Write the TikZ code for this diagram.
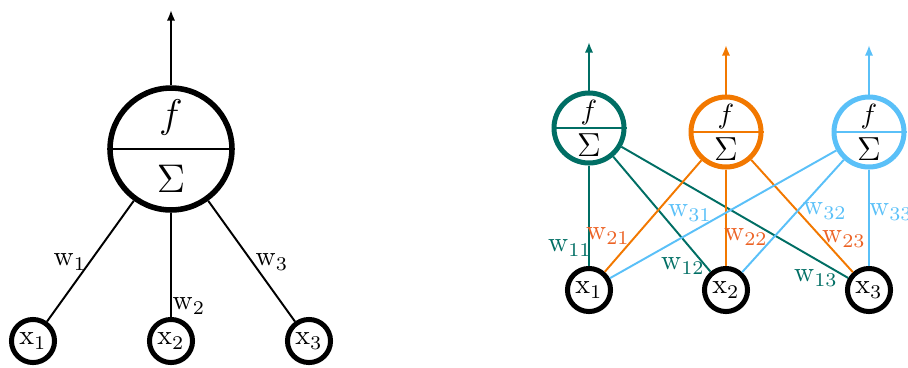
\documentclass[tikz,border=0pt]{standalone}
\usetikzlibrary{arrows.meta}
\definecolor{tealc}{RGB}{0,110,100}
\definecolor{orngc}{RGB}{242,120,0}
\definecolor{orngt}{RGB}{236,98,36}
\definecolor{skyc}{RGB}{90,192,248}
\tikzset{
  bigneuron/.style={circle, draw, line width=2pt, inner sep=0pt, minimum size=43.9pt},
  neuron/.style={circle, draw, line width=1.8pt, inner sep=0pt, minimum size=25.2pt},
  inp/.style={circle, draw=black, line width=1.8pt, inner sep=0pt, minimum size=15.5pt},
  conn/.style={line width=0.7pt},
  outarrow/.style={line width=0.7pt, -{Latex[length=3.8pt,width=3pt]}},
  lbl/.style={inner sep=0pt},
}
\begin{document}
\begin{tikzpicture}[x=0.36pt,y=-0.36pt]
\useasboundingbox (0,0) rectangle (908,367);
% ---------- left: single neuron ----------
\node[bigneuron] (L) at (171,149) {};
\draw[conn] (L.west) -- (L.east);
\node[lbl] (Lf) at (171,117) {\Large $f$};
\node[lbl] (Ls) at (171,179) {\Large $\Sigma$};
\coordinate (Lout) at (171,10);
\draw[outarrow] (L.north) -- (Lout);
\node[inp] (Lx1) at (33,341) {$\mathrm{x}_1$};
\node[inp] (Lx2) at (171,341) {$\mathrm{x}_2$};
\node[inp] (Lx3) at (309,341) {$\mathrm{x}_3$};
\draw[conn] (L) -- (Lx1);
\draw[conn] (L) -- (Lx2);
\draw[conn] (L) -- (Lx3);
\node[lbl] (Lw1) at (70,262) {$\mathrm{w}_1$};
\node[lbl] (Lw2) at (189,306) {$\mathrm{w}_2$};
\node[lbl] (Lw3) at (272,262) {$\mathrm{w}_3$};
% ---------- right: three neurons ----------
\node[neuron, draw=tealc] (N1) at (589,128) {};
\node[neuron, draw=orngc] (N2) at (726,132) {};
\node[neuron, draw=skyc] (N3) at (869,132) {};
\draw[conn, tealc] (N1.west) -- (N1.east);
\draw[conn, orngc] (N2.west) -- (N2.east);
\draw[conn, skyc] (N3.west) -- (N3.east);
\node[lbl] (N1f) at (589,113) {$f$};
\node[lbl] (N1s) at (589,145) {\large $\Sigma$};
\node[lbl] (N2f) at (726,117) {$f$};
\node[lbl] (N2s) at (726,149) {\large $\Sigma$};
\node[lbl] (N3f) at (869,117) {$f$};
\node[lbl] (N3s) at (869,149) {\large $\Sigma$};
\coordinate (O1) at (589,42);
\coordinate (O2) at (726,45);
\coordinate (O3) at (869,45);
\draw[outarrow, tealc] (N1.north) -- (O1);
\draw[outarrow, orngc] (N2.north) -- (O2);
\draw[outarrow, skyc] (N3.north) -- (O3);
\node[inp] (X1) at (589,290) {$\mathrm{x}_1$};
\node[inp] (X2) at (726,290) {$\mathrm{x}_2$};
\node[inp] (X3) at (869,290) {$\mathrm{x}_3$};
\draw[conn, tealc] (N1) -- (X1);
\draw[conn, tealc] (N1) -- (X2);
\draw[conn, tealc] (N1) -- (X3);
\draw[conn, orngc] (N2) -- (X1);
\draw[conn, orngc] (N2) -- (X2);
\draw[conn, orngc] (N2) -- (X3);
\draw[conn, skyc] (N3) -- (X1);
\draw[conn, skyc] (N3) -- (X2);
\draw[conn, skyc] (N3) -- (X3);
\node[lbl, text=tealc] (w11) at (570,248) {$\mathrm{w}_{11}$};
\node[lbl, text=orngt] (w21) at (608,236) {$\mathrm{w}_{21}$};
\node[lbl, text=skyc] (w31) at (690,213) {$\mathrm{w}_{31}$};
\node[lbl, text=tealc] (w12) at (683,266) {$\mathrm{w}_{12}$};
\node[lbl, text=orngt] (w22) at (746,237) {$\mathrm{w}_{22}$};
\node[lbl, text=skyc] (w32) at (825,211) {$\mathrm{w}_{32}$};
\node[lbl, text=tealc] (w13) at (816,278) {$\mathrm{w}_{13}$};
\node[lbl, text=orngt] (w23) at (844,239) {$\mathrm{w}_{23}$};
\node[lbl, text=skyc] (w33) at (891,212) {$\mathrm{w}_{33}$};
\end{tikzpicture}
\end{document}
